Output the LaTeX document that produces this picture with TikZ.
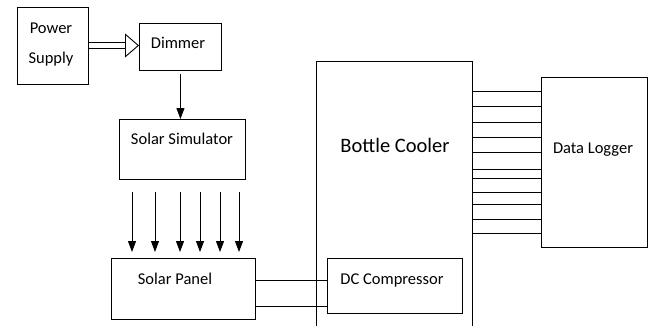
\documentclass[tikz,border=0pt]{standalone}
\usepackage{fontspec}
\setmainfont{Carlito}
\usetikzlibrary{positioning, arrows.meta}

\begin{document}
\begin{tikzpicture}[x=1pt, y=-1pt, line width=0.9pt,
    blk/.style={draw, anchor=north west, inner sep=0pt},
    txt/.style={font=\fontsize{16.5}{30}\selectfont, align=center, inner sep=0pt},
    arr/.style={-{Triangle[length=11pt, width=8pt]}},
    dblarr/.style={double, double distance=5.5pt, -{Triangle[open, length=14pt, width=24pt]}}]
    \clip (0,0) rectangle (652,326);

    % Boxes
    \node[blk, minimum width=71pt, minimum height=77pt] (ps) at (17,7) {};
    \node[blk, minimum width=82pt, minimum height=47pt] (dim) at (139,23) {};
    \node[blk, minimum width=126pt, minimum height=60pt] (ss) at (119,119) {};
    \node[blk, minimum width=144pt, minimum height=61pt] (sp) at (111,258) {};
    \node[blk, minimum width=156pt, minimum height=290pt] (bc) at (316,61) {};
    \node[blk, minimum width=135pt, minimum height=55pt] (dc) at (327,258) {};
    \node[blk, minimum width=106pt, minimum height=170pt] (dl) at (541,77) {};

    % Labels
    \node[txt] (pstext) at (51,45) {Power\\Supply};
    \node[txt] (dimtext) at (178,43) {Dimmer};
    \node[txt] (sstext) at (182,139) {Solar Simulator};
    \node[txt] (sptext) at (175,279) {Solar Panel};
    \node[txt] (dctext) at (392,280) {DC Compressor};
    \node[txt, font=\fontsize{20.5}{24}\selectfont] (bctext) at (395,145) {Bottle Cooler};
    \node[txt] (dltext) at (593,150) {Data Logger};

    % Connectors
    \draw[dblarr] (ps.east |- 0,45.5) -- (dim.west |- 0,45.5);
    \draw[arr, shorten <=3pt] (dim.south) -- (ss.north -| dim.south);
    \foreach \x in {132,155,180,200,220,239} {
      \draw[arr, shorten >=6pt] (\x,192) -- (sp.north -| \x,0);
    }
    \draw (sp.east |- 0,280) -- (dc.west |- 0,280);
    \draw (sp.east |- 0,306) -- (dc.west |- 0,306);
    \foreach \y in {91,106,122,137,152,169,178,192,204,219,233} {
      \draw (bc.east |- 0,\y) -- (dl.west |- 0,\y);
    }
\end{tikzpicture}
\end{document}
